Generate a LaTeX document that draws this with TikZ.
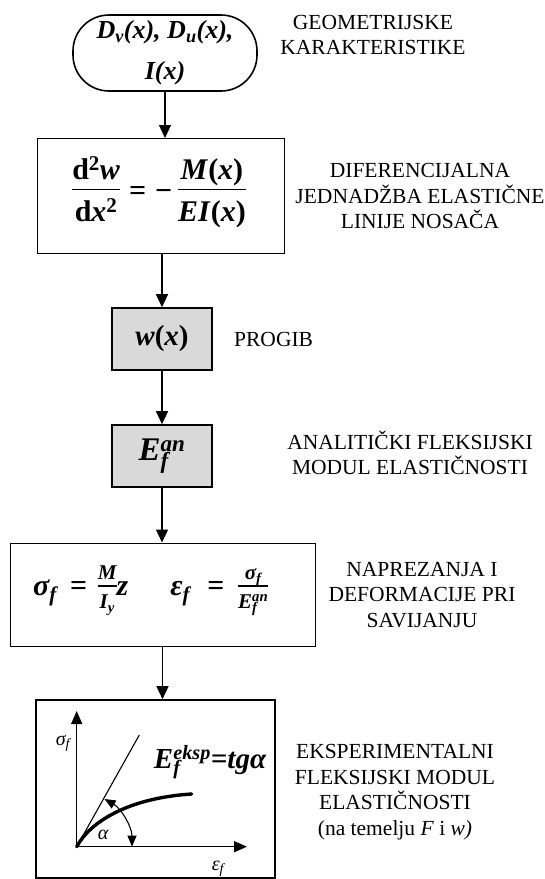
\documentclass[tikz,border=0pt]{standalone}
\usepackage{fontspec}
\setmainfont{Liberation Serif}
\usetikzlibrary{arrows.meta}
\newcommand{\bfit}{\bfseries\itshape}
\newcommand{\myfrac}[2]{\begin{tabular}[c]{@{}c@{}}#1\\[-1pt]\hline\rule{0pt}{1.05em}#2\end{tabular}}
\setlength{\arrayrulewidth}{1.5pt}
\begin{document}
\begin{tikzpicture}[x=1pt,y=-1pt,
  lab/.style={align=center,font=\fontsize{21.5}{25.5}\selectfont,inner sep=0pt},
  conn/.style={line width=1.3pt,-{Triangle[width=12pt,length=13pt]}},
  framebox/.style={draw,line width=1pt,inner sep=0pt},
  graybox/.style={draw,line width=1.6pt,fill=black!15,minimum width=100pt,minimum height=62pt,inner sep=0pt},
  axisline/.style={line width=1.4pt,-{Triangle[width=11pt,length=13pt]}},
  glab/.style={font=\fontsize{20}{22}\selectfont\itshape,inner sep=0pt}
]
\useasboundingbox (0,0) rectangle (545,879);

% boxes
\node[draw,line width=1.6pt,rounded corners=36pt,minimum width=184pt,minimum height=76pt,inner sep=0pt,align=center,font=\fontsize{26}{41}\selectfont\bfit] (geo) at (165,53) {D\textsubscript{v}(x), D\textsubscript{u}(x),\\I(x)};
\node[framebox,minimum width=247pt,minimum height=115pt] (eq) at (160.5,196) {};
\node[inner sep=0pt,font=\fontsize{30}{33}\selectfont\bfseries] (eqt) at (159,194) {\myfrac{d\textsuperscript{2}\textit{w}}{d\textit{x}\textsuperscript{2}}\hspace{9pt}=\hspace{9pt}−\hspace{6pt}\myfrac{\textit{M}(\textit{x})}{\textit{EI}(\textit{x})}};
\node[graybox,font=\fontsize{29}{32}\selectfont\bfseries] (w) at (162,339) {\textit{w}(\textit{x})};
\node[graybox,font=\fontsize{33}{36}\selectfont\bfit] (ean) at (162,456) {E\rlap{\textsubscript{f}}\textsuperscript{an}};
\node[framebox,minimum width=305pt,minimum height=103pt] (sig) at (162.5,594.5) {};
\node[inner sep=0pt,anchor=west,font=\fontsize{30}{33}\selectfont\bfit] (sigt) at (33,590) {σ\textsubscript{f}\hspace{13pt}=\hspace{11pt}{\fontsize{21}{22}\selectfont\myfrac{M}{I\textsubscript{y}}}z\hspace{42pt}ε\textsubscript{f}\hspace{17pt}=\hspace{14pt}{\fontsize{21}{22}\selectfont\myfrac{σ\textsubscript{f}}{E\rlap{\textsubscript{f}}\textsuperscript{an}}}};
\node[draw,line width=1.6pt,minimum width=239pt,minimum height=178pt,inner sep=0pt] (gr) at (155.5,789) {};

% connectors
\draw[conn] (geo.south) -- (geo.south |- eq.north);
\draw[conn] (w.north |- eq.south) -- (w.north);
\draw[conn] (w.south) -- (ean.north);
\draw[conn] (ean.south) -- (ean.south |- sig.north);
\draw[conn] (sig.south) -- (sig.south |- gr.north);

% right labels
\node[lab] (l1) at (373,35) {GEOMETRIJSKE\\KARAKTERISTIKE};
\node[lab] (l2) at (420,196) {DIFERENCIJALNA\\JEDNADŽBA ELASTIČNE\\LINIJE NOSAČA};
\node[lab,anchor=west] (l3) at (234,339) {PROGIB};
\node[lab] (l4) at (410,453) {ANALITIČKI FLEKSIJSKI\\MODUL ELASTIČNOSTI};
\node[lab] (l5) at (422,595) {NAPREZANJA I\\DEFORMACIJE PRI\\SAVIJANJU};
\node[lab] (l6) at (395,792) {EKSPERIMENTALNI\\FLEKSIJSKI MODUL\\ELASTIČNOSTI\\(na temelju \textit{F} i \textit{w)}};

% graph
\coordinate (O) at (76.7,846.7);
\coordinate (Ytop) at (76.7,711);
\coordinate (Xend) at (247,846.7);
\coordinate (Lend) at (139.3,735);
\coordinate (Cend) at (191.7,794);
\coordinate (A1) at (104.5,799);
\draw[axisline] (O) -- (Ytop);
\draw[axisline] (O) -- (Xend);
\draw[line width=1.1pt] (O) -- (Lend);
\draw[line width=3.4pt,line cap=round] (O) .. controls (90,822) and (128,798) .. (Cend);
\draw[line width=1.1pt,{Triangle[width=9pt,length=11pt]}-{Triangle[width=9pt,length=11pt]}] (A1) arc[start angle=-60,end angle=0,radius=55];
\node[glab] (sf) at (63,743) {σ\textsubscript{f}};
\node[glab] (al) at (103,835) {α};
\node[glab] (ef) at (218,869) {ε\textsubscript{f}};
\node[inner sep=0pt,font=\fontsize{29}{32}\selectfont\bfit] (ek) at (210,762) {E\rlap{\textsubscript{f}}\textsuperscript{eksp}=tgα};
\end{tikzpicture}
\end{document}
